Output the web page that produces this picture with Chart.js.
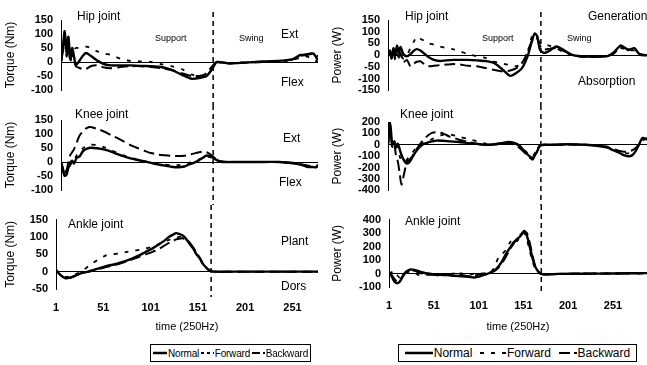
<!DOCTYPE html>
<html>
<head>
<meta charset="utf-8">
<script src="https://cdn.jsdelivr.net/npm/chart.js@4"></script>
<style>
body { margin: 0; background: #fff; width: 647px; height: 365px; overflow: hidden; position: relative; font-family: "Liberation Sans", Arial, sans-serif; color: #000; }
canvas { position: absolute; }
.lbl { position: absolute; font-size: 12px; line-height: 12px; white-space: nowrap; }
.sm { font-size: 9px; line-height: 9px; }
.legend { position: absolute; border: 1px solid #000; height: 18px; box-sizing: border-box; display: flex; align-items: center; white-space: nowrap; padding: 0 2px; }
.legend span { display: inline-flex; align-items: center; }
.legend svg { margin-right: 1px; flex: none; }
</style>
</head>
<body>
<canvas id="hipTorque" width="318" height="105" style="left:0;top:0"></canvas>
<canvas id="kneeTorque" width="318" height="100" style="left:0;top:105px"></canvas>
<canvas id="ankleTorque" width="318" height="135" style="left:0;top:205px"></canvas>
<canvas id="hipPower" width="322" height="105" style="left:325px;top:0"></canvas>
<canvas id="kneePower" width="322" height="100" style="left:325px;top:105px"></canvas>
<canvas id="anklePower" width="322" height="135" style="left:325px;top:205px"></canvas>

<div class="lbl" style="left:77px;top:10px">Hip joint</div>
<div class="lbl sm" style="left:155px;top:34px">Support</div>
<div class="lbl sm" style="left:239px;top:34px">Swing</div>
<div class="lbl" style="left:281px;top:28px">Ext</div>
<div class="lbl" style="left:281px;top:76px">Flex</div>
<div class="lbl" style="left:75px;top:108px">Knee joint</div>
<div class="lbl" style="left:283px;top:132px">Ext</div>
<div class="lbl" style="left:279px;top:176px">Flex</div>
<div class="lbl" style="left:68px;top:218px">Ankle joint</div>
<div class="lbl" style="left:281px;top:235px">Plant</div>
<div class="lbl" style="left:281px;top:280px">Dors</div>

<div class="lbl" style="left:405px;top:10px">Hip joint</div>
<div class="lbl sm" style="left:482px;top:34px">Support</div>
<div class="lbl sm" style="left:567px;top:34px">Swing</div>
<div class="lbl" style="left:588px;top:10px">Generation</div>
<div class="lbl" style="left:578px;top:75px">Absorption</div>
<div class="lbl" style="left:400px;top:108px">Knee joint</div>
<div class="lbl" style="left:405px;top:215px">Ankle joint</div>

<div class="legend" style="left:150px;top:344px;width:161px;font-size:10px;letter-spacing:-0.2px;justify-content:space-between">
  <span><svg width="14" height="6"><line x1="0" y1="3" x2="14" y2="3" stroke="#000" stroke-width="2.5"/></svg>Normal</span>
  <span><svg width="13" height="6"><line x1="0" y1="3" x2="13" y2="3" stroke="#000" stroke-width="1.8" stroke-dasharray="3,3"/></svg>Forward</span>
  <span><svg width="13" height="6"><line x1="0" y1="3" x2="13" y2="3" stroke="#000" stroke-width="2" stroke-dasharray="8,3"/></svg>Backward</span>
</div>
<div class="legend" style="left:398px;top:344px;width:239px;font-size:12px;justify-content:space-around">
  <span><svg width="28" height="6"><line x1="0" y1="3" x2="28" y2="3" stroke="#000" stroke-width="2.5"/></svg>Normal</span>
  <span><svg width="26" height="6"><line x1="0" y1="3" x2="26" y2="3" stroke="#000" stroke-width="1.8" stroke-dasharray="4,7"/></svg>Forward</span>
  <span><svg width="18" height="6"><line x1="0" y1="3" x2="18" y2="3" stroke="#000" stroke-width="2" stroke-dasharray="11,4"/></svg>Backward</span>
</div>

<script>
Chart.defaults.font.family = '"Liberation Sans", Arial, sans-serif';
Chart.defaults.font.size = 11;
Chart.defaults.color = '#000';

// sample axis (250Hz frames)
const X_TICKS = [1, 51, 101, 151, 201, 251];
const LEFT_X_MAX = 278;
const RIGHT_X_MAX = 289;
const LEFT_SWING_START = 165;
const RIGHT_SWING_START = 171;

// Hip torque (Nm)
const HIP_T_X = [1,3,5,7,9,11,13,15,17,20,24,28,33,40,48,55,65,76,87,98,109,120,131,142,153,158,164,169,182,197,218,240,251,259,265,273,278];
const HIP_T_NORMAL = [0,50,110,40,90,10,50,20,-10,0,20,32,22,5,-8,-12,-12,-12,-14,-15,-18,-28,-45,-60,-55,-50,-25,0,-5,-3,2,5,10,25,25,30,5];
const HIP_T_FORWARD = [0,30,80,30,60,20,40,45,50,50,52,55,50,38,30,25,12,4,2,0,-8,-15,-25,-45,-50,-42,-17,-3,-5,-2,0,3,8,15,20,10,-2];
const HIP_T_BACKWARD = [0,40,100,20,60,0,30,10,-15,-20,-25,-25,-15,-12,-20,-22,-18,-15,-15,-18,-22,-28,-40,-50,-48,-40,-15,0,-5,-2,0,5,10,20,28,30,20];

// Knee torque (Nm)
const KNEE_T_X = [1,3,5,7,9,11,13,15,18,21,25,29,33,40,48,55,62,69,76,84,91,98,105,113,120,127,134,138,144,149,154,158,164,169,175,190,210,237,251,260,266,272,276,278];
const KNEE_T_NORMAL = [0,-30,-50,-45,-20,-10,5,-5,15,20,40,48,51,49,44,37,28,20,13,7,2,-3,-8,-13,-17,-19,-16,-10,-3,5,15,23,17,7,0,0,0,0,-5,-10,-17,-18,-19,-12];
const KNEE_T_FORWARD = [0,-25,-40,-30,-10,0,10,5,25,35,50,58,62,60,52,42,32,23,15,8,3,-2,-6,-9,-11,-11,-8,-4,2,8,15,20,15,5,0,0,0,0,-4,-8,-14,-16,-17,-14];
const KNEE_T_BACKWARD = [0,-20,-45,-30,0,25,35,45,70,95,110,122,125,118,108,96,85,73,60,49,40,32,27,24,22,21,22,25,30,34,37,35,22,8,2,0,0,0,-3,-8,-12,-15,-16,-10];

// Ankle torque (Nm)
const ANKLE_T_X = [1,4,8,11,15,20,25,30,35,40,47,54,61,68,75,82,89,96,103,110,115,121,125,128,131,135,138,142,146,149,153,156,159,162,166,170,190,220,250,278];
const ANKLE_T_NORMAL = [5,-5,-15,-19,-18,-13,-7,-3,0,4,10,16,20,25,31,38,47,57,67,79,88,101,107,111,109,104,96,81,67,52,38,23,14,6,1,0,0,0,0,0];
const ANKLE_T_FORWARD = [5,-3,-10,-15,-14,-10,-3,5,15,25,37,47,50,53,56,60,63,67,72,80,86,92,96,98,100,100,95,85,70,55,40,25,14,6,2,0,0,0,0,0];
const ANKLE_T_BACKWARD = [5,-5,-14,-18,-18,-14,-8,-3,0,3,8,13,18,23,29,36,43,50,57,66,74,84,89,93,95,96,92,84,70,56,40,25,14,6,1,0,0,0,0,0];

// Hip power (W)
const HIP_P_X = [1,3,5,7,9,11,13,15,18,22,26,30,33,37,42,46,52,59,66,74,81,90,100,110,118,125,131,137,144,150,154,157,161,164,167,170,174,177,181,188,195,207,222,238,246,253,260,268,275,281,289];
const HIP_P_NORMAL = [0,20,-10,30,0,40,10,35,5,-5,5,20,26,20,5,-8,-20,-25,-22,-20,-20,-20,-22,-25,-32,-50,-70,-88,-75,-55,-25,5,60,92,80,23,10,12,20,37,25,0,-6,-6,-3,15,42,22,30,2,0];
const HIP_P_FORWARD = [0,5,-5,10,-10,15,-15,0,-15,0,30,60,79,70,60,51,45,37,30,25,16,5,-5,-12,-26,-33,-38,-42,-47,-35,-11,20,79,75,65,55,50,44,40,30,15,0,-5,-5,0,8,30,20,20,5,0];
const HIP_P_BACKWARD = [0,10,-15,20,-20,30,-10,10,-30,-20,-47,-35,-28,-26,-40,-47,-45,-42,-40,-38,-40,-45,-47,-55,-62,-67,-68,-65,-55,-33,-5,25,60,79,70,40,23,25,28,30,20,0,-8,-6,-2,10,35,25,25,5,0];

// Knee power (W)
const KNEE_P_X = [1,2,3,4,5,6,8,10,12,14,16,19,22,25,28,32,36,40,45,50,55,62,70,80,90,100,110,120,128,135,142,147,151,155,159,162,166,170,175,185,200,220,235,245,252,258,263,268,272,276,280,284,289];
const KNEE_P_NORMAL = [0,100,200,150,50,0,30,-20,10,-40,-90,-140,-165,-150,-110,-60,-20,5,20,30,37,35,30,25,15,8,0,5,15,25,15,-5,-40,-75,-105,-115,-70,-10,0,0,5,0,-10,-25,-50,-70,-90,-100,-95,-60,0,60,45];
const KNEE_P_FORWARD = [0,50,100,60,0,-20,20,-10,-50,-100,-140,-150,-130,-100,-70,-30,0,15,30,50,70,88,90,70,52,30,10,5,12,20,10,-10,-35,-65,-95,-100,-50,-5,0,0,2,0,-5,-15,-35,-55,-70,-75,-65,-35,10,50,50];
const KNEE_P_BACKWARD = [0,80,180,120,20,-30,0,-100,-150,-250,-350,-250,-150,-130,-100,-50,0,40,80,105,110,100,70,45,25,10,0,5,10,15,0,-25,-55,-85,-115,-130,-60,-5,0,0,3,0,-8,-20,-40,-55,-60,-60,-50,-30,0,40,60];

// Ankle power (W)
const ANKLE_P_X = [1,4,7,10,13,16,20,25,30,35,42,50,58,66,74,82,90,96,100,104,108,112,116,120,124,128,132,136,140,144,148,152,155,158,161,164,167,170,175,190,220,250,289];
const ANKLE_P_NORMAL = [0,-20,-60,-72,-60,-26,10,30,25,15,2,-5,-10,-12,-17,-20,-25,-30,-25,-17,-8,0,15,30,60,100,150,190,230,255,280,315,280,200,120,55,20,0,-8,-3,-2,0,3];
const ANKLE_P_FORWARD = [0,10,20,-10,-30,-10,5,15,5,-15,-10,-5,-8,-10,-5,0,-10,0,5,0,0,5,20,70,130,150,180,230,260,240,290,300,250,170,95,40,10,0,-5,-3,0,0,0];
const ANKLE_P_BACKWARD = [0,-10,-40,-60,-50,-20,15,25,20,5,-5,-10,-15,-10,0,-10,-20,-15,-10,-5,0,5,10,25,50,85,130,180,220,260,290,310,300,230,140,60,20,0,-5,-3,0,0,2];

function toPoints(xs, ys) {
    return xs.map((x, i) => ({ x: x, y: ys[i] }));
}

// vertical dashed line between support and swing phase
const dividerPlugin = {
    id: 'divider',
    afterDatasetsDraw(chart, args, opts) {
        const ctx = chart.ctx;
        const area = chart.chartArea;
        const x = chart.scales.x.getPixelForValue(opts.value);
        const y1 = opts.trimTop ? area.top - 8 : 0;
        const y2 = opts.trimBottom ? area.bottom + 8 : chart.height;
        ctx.save();
        ctx.strokeStyle = '#000';
        ctx.lineWidth = 1.5;
        ctx.setLineDash([5, 4]);
        ctx.beginPath();
        ctx.moveTo(x, y1);
        ctx.lineTo(x, y2);
        ctx.stroke();
        ctx.restore();
    }
};

function makePanel(id, xs, normal, forward, backward, p) {
    const ctx = document.getElementById(id).getContext('2d');
    return new Chart(ctx, {
        type: 'line',
        data: {
            datasets: [{
                label: 'Normal',
                data: toPoints(xs, normal),
                borderColor: '#000',
                borderWidth: 2.4,
                pointRadius: 0,
                tension: 0.25
            }, {
                label: 'Forward',
                data: toPoints(xs, forward),
                borderColor: '#000',
                borderWidth: 1.8,
                borderDash: [4, 7],
                pointRadius: 0,
                tension: 0.25
            }, {
                label: 'Backward',
                data: toPoints(xs, backward),
                borderColor: '#000',
                borderWidth: 2,
                borderDash: [11, 5],
                pointRadius: 0,
                tension: 0.25
            }]
        },
        options: {
            responsive: false,
            animation: false,
            devicePixelRatio: 1,
            layout: { padding: { top: p.padTop, bottom: p.padBottom, left: 0, right: 0 } },
            plugins: {
                legend: { display: false },
                tooltip: { enabled: false },
                divider: { value: p.divider, trimTop: p.trimTop, trimBottom: p.trimBottom }
            },
            scales: {
                x: {
                    type: 'linear',
                    min: 1,
                    max: p.xMax,
                    display: p.showX,
                    afterBuildTicks: s => { s.ticks = X_TICKS.map(v => ({ value: v })); },
                    afterFit: s => { if (p.showX) s.height = 50; },
                    grid: { display: false, drawTicks: false },
                    border: { display: false },
                    ticks: { padding: 12, maxRotation: 0, autoSkip: false, font: { weight: 'bold' } },
                    title: { display: p.showX, text: 'time (250Hz)', font: { size: 11 }, padding: { top: 0, bottom: p.xTitlePad } }
                },
                y: {
                    min: p.yMin,
                    max: p.yMax,
                    afterBuildTicks: s => {
                        const t = [];
                        for (let v = p.yMin; v <= p.yMax; v += p.step) t.push({ value: v });
                        s.ticks = t;
                    },
                    afterFit: s => { s.width = p.axisWidth; },
                    grid: {
                        drawTicks: false,
                        color: c => (c.tick && c.tick.value === 0) ? '#000' : 'rgba(0,0,0,0)',
                        lineWidth: 1
                    },
                    border: { display: true, color: '#000', width: 1 },
                    ticks: { padding: 8, autoSkip: false, font: { weight: 'bold' } },
                    title: { display: true, text: p.yTitle, font: { size: 12 }, padding: { top: p.yTitlePad, bottom: 0 } }
                }
            }
        },
        plugins: [dividerPlugin]
    });
}

makePanel('hipTorque', HIP_T_X, HIP_T_NORMAL, HIP_T_FORWARD, HIP_T_BACKWARD, {
    yMin: -100, yMax: 150, step: 50, yTitle: 'Torque (Nm)', yTitlePad: 3, axisWidth: 61,
    padTop: 20, padBottom: 15, showX: false, xMax: LEFT_X_MAX, divider: LEFT_SWING_START, trimTop: true
});
makePanel('kneeTorque', KNEE_T_X, KNEE_T_NORMAL, KNEE_T_FORWARD, KNEE_T_BACKWARD, {
    yMin: -100, yMax: 150, step: 50, yTitle: 'Torque (Nm)', yTitlePad: 3, axisWidth: 61,
    padTop: 15, padBottom: 15, showX: false, xMax: LEFT_X_MAX, divider: LEFT_SWING_START
});
makePanel('ankleTorque', ANKLE_T_X, ANKLE_T_NORMAL, ANKLE_T_FORWARD, ANKLE_T_BACKWARD, {
    yMin: -50, yMax: 150, step: 50, yTitle: 'Torque (Nm)', yTitlePad: 3, axisWidth: 56,
    padTop: 14, padBottom: 1, showX: true, xTitlePad: 5, xMax: LEFT_X_MAX, divider: LEFT_SWING_START, trimBottom: true
});
makePanel('hipPower', HIP_P_X, HIP_P_NORMAL, HIP_P_FORWARD, HIP_P_BACKWARD, {
    yMin: -150, yMax: 150, step: 50, yTitle: 'Power (W)', yTitlePad: 5, axisWidth: 63,
    padTop: 20, padBottom: 14, showX: false, xMax: RIGHT_X_MAX, divider: RIGHT_SWING_START, trimTop: true
});
makePanel('kneePower', KNEE_P_X, KNEE_P_NORMAL, KNEE_P_FORWARD, KNEE_P_BACKWARD, {
    yMin: -400, yMax: 200, step: 100, yTitle: 'Power (W)', yTitlePad: 5, axisWidth: 63,
    padTop: 17, padBottom: 10, showX: false, xMax: RIGHT_X_MAX, divider: RIGHT_SWING_START
});
makePanel('anklePower', ANKLE_P_X, ANKLE_P_NORMAL, ANKLE_P_FORWARD, ANKLE_P_BACKWARD, {
    yMin: -100, yMax: 400, step: 100, yTitle: 'Power (W)', yTitlePad: 5, axisWidth: 64,
    padTop: 12, padBottom: 3, showX: true, xTitlePad: 3, xMax: RIGHT_X_MAX, divider: RIGHT_SWING_START, trimBottom: true
});
</script>
</body>
</html>
